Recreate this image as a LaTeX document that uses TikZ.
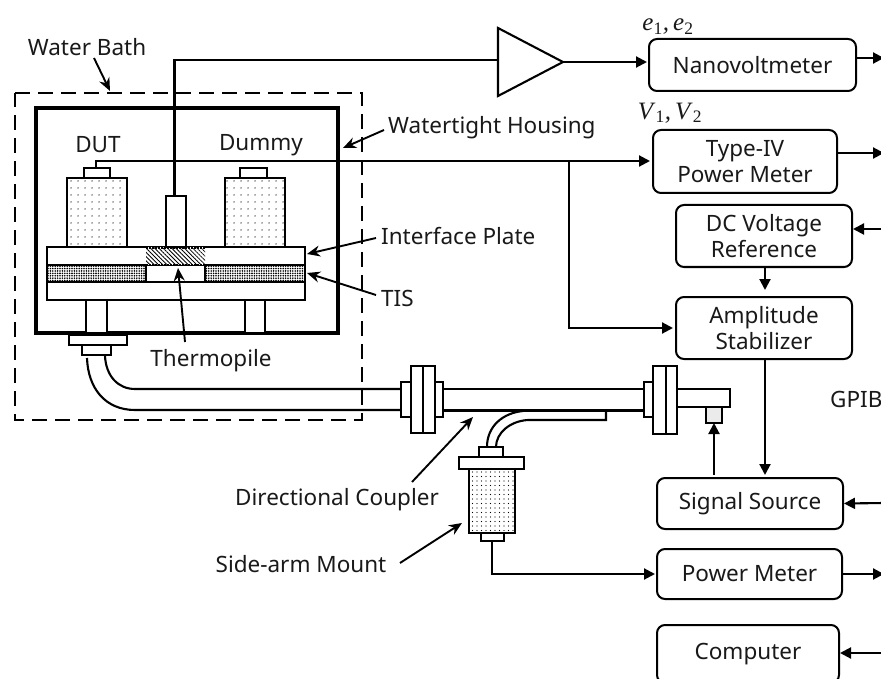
\documentclass[tikz,border=0pt]{standalone}
\usepackage{fontspec}
\setmainfont{Noto Sans}
\newfontfamily\symfont{Liberation Serif}
\usetikzlibrary{arrows.meta,patterns.meta}
\tikzset{
  x=1pt,y=-1pt,
  every node/.style={font=\fontsize{22.5}{26}\selectfont,text=black!90,inner sep=0pt,align=center},
  instr/.style={draw,line width=2pt,rounded corners=8pt,minimum width=#1},
  part/.style={draw,line width=2pt,fill=white},
  wire/.style={line width=2.1pt},
  arr/.style={line width=2.1pt,-{Triangle[length=11pt,width=11pt]}},
  ann/.style={line width=1.9pt,-{Stealth[length=13pt,width=11pt]}},
  lightdots/.style={pattern={Dots[distance=6.5pt,radius=0.7pt]}},
  densedots/.style={pattern={Dots[distance=2.4pt,radius=0.9pt]}},
  hatchfill/.style={pattern={Lines[angle=-45,distance=3pt,line width=.8pt]}},
}
\newcommand{\symtext}[1]{{\symfont\fontsize{25}{28}\selectfont\textit{#1}\textsubscript{1}\textit{,\,#1}\textsubscript{2}}}
\begin{document}
\begin{tikzpicture}
\useasboundingbox (0,0) rectangle (881,679);
\fill[white] (0,0) rectangle (881,679);
% instruments
\node[instr=207pt,minimum height=52pt] (nv) at (752.5,65) {\raisebox{-1pt}{Nanovoltmeter}};
\node[instr=184pt,minimum height=63pt] (tiv) at (745,161.5) {Type-IV\\Power Meter};
\node[instr=176pt,minimum height=62pt] (dc) at (764,236) {\raisebox{1pt}{DC Voltage}\\\raisebox{1pt}{Reference}};
\node[instr=176pt,minimum height=62pt] (amp) at (764,328) {Amplitude\\Stabilizer};
\node[instr=186pt,minimum height=51pt] (sig) at (750,503.5) {\raisebox{-3pt}{Signal Source}};
\node[instr=185pt,minimum height=50pt] (pm) at (749.5,574) {Power Meter};
\node[instr=182pt,minimum height=58pt] (comp) at (748,654) {\raisebox{-2pt}{Computer}};
% labels
\node (wb) at (87,47) {Water Bath};
\node[anchor=west] (wh) at (388,128) {Watertight Housing};
\node (dut) at (98,145) {DUT};
\node (dum) at (261,145) {Dummy};
\node[anchor=west] (ip) at (381,236) {Interface Plate};
\node[anchor=west] (tis) at (381,298) {TIS};
\node (tp) at (211,361) {Thermopile};
\node (dcl) at (337,500) {Directional Coupler};
\node (sam) at (301,564) {Side-arm Mount};
\node[anchor=west] (gpib) at (830,399) {GPIB};
\node (e) at (668,27) {\symtext{e}};
\node (v) at (670,113) {\symtext{V}};
% water bath & housing
\draw[line width=2.5pt,dash pattern=on 15pt off 8pt] (15,93) -- (362,93) -- (362,420) -- (15,420) -- cycle;
\draw[line width=3.6pt] (36,108) rectangle (338,333);
% plates
\draw[part] (47,247) rectangle (305,265);
\draw[part] (47,282) rectangle (305,300);
\draw[part,densedots] (47,265) rectangle (146,282);
\draw[part,densedots] (205,265) rectangle (305,282);
\draw[part] (146,265) rectangle (205,282);
\fill[white] (146,247) rectangle (205,265);
\path[hatchfill] (146,247) rectangle (205,265);
\draw[line width=2pt,densely dotted] (146,248) -- (205,248) (146,265) -- (205,265);
% mounts
\draw[part] (84,168) rectangle (110,178);
\draw[part,preaction={fill=white},lightdots] (67,178) rectangle (127,247);
\draw[part] (240,168) rectangle (267,178);
\draw[part,preaction={fill=white},lightdots] (225,178) rectangle (285,247);
\draw[part] (166,196) rectangle (186,247);
\coordinate (sensortop) at (174.5,196);
\coordinate (duttop) at (96,168);
\draw[part] (86,300) rectangle (107,333);
\draw[part] (245,300) rectangle (265,333);
\draw[part] (69,335) rectangle (127,345);
\draw[part] (82,345) rectangle (111,355);
% waveguide
\draw[wire] (87,358) .. controls (88,388) and (105,410) .. (135,410) -- (401,410);
\draw[wire] (105,356) .. controls (106,376) and (118,389) .. (135,389) -- (401,389);
\draw[wire] (443,389) -- (644,389) (443,410.5) -- (644,410.5);
\draw[wire] (677,389) -- (730,389) -- (730,407) -- (677,407);
\draw[part] (401,382) rectangle (411,417);
\draw[part] (411,366) rectangle (423,433);
\draw[part] (423,366) rectangle (435,433);
\draw[part] (435,382) rectangle (443,417);
\draw[part] (644,382) rectangle (653,417);
\draw[part] (653,366) rectangle (666,434);
\draw[part] (666,366) rectangle (677,434);
\draw[part,fill=black!8] (706,407) rectangle (722,423);
\coordinate (detbot) at (714,423);
% coupler
\draw[wire] (523,411) .. controls (503,413) and (487,426) .. (487,447);
\draw[wire] (606,411) -- (606,420) -- (528,420) .. controls (510,421) and (496,433) .. (496,447);
% side-arm mount
\draw[part] (479,447) rectangle (503,457);
\draw[part] (459,457) rectangle (524,469);
\draw[part,preaction={fill=white},pattern={Dots[distance=4.5pt,radius=0.55pt]}] (469,469) rectangle (515,533);
\draw[part] (481,533) rectangle (504,541);
\coordinate (sabot) at (492,541);
% wires
\coordinate (bend1) at (174.5,60);
\draw[wire,fill=white] (498,28) -- (563,62) -- (498,96) -- cycle;
\coordinate (triin) at (498,60);
\coordinate (triout) at (563,62);
\draw[wire] (sensortop) -- (bend1) -- (triin);
\draw[arr] (triout) -- (647,62);
\coordinate (wbend) at (96,161);
\draw[arr] (duttop) -- (wbend) -- (650,161);
\coordinate (junc) at (569,161);
\coordinate (jbend) at (569,328);
\draw[arr] (junc) -- (jbend) -- (673,328);
% instrument arrows
\draw[arr] (nv.east |- 0,58) -- (884,58);
\draw[arr] (tiv.east |- 0,153) -- (884,153);
\draw[arr] (884,229) -- (dc.east |- 0,229);
\draw[arr] (dc.south -| 765,0) -- (765,290);
\draw[arr] (amp.south -| 765,0) -- (765,475);
\draw[arr] (714,475) -- (detbot);
\draw[arr] (884,503) -- (sig.east);
\draw[arr] (pm.east) -- (884,574);
\draw[arr] (884,653) -- (comp.east |- 0,653);
\draw[arr] (sabot) -- (492,574) -- (655,574);
% annotations
\draw[ann] (94,58) -- (110,91);
\draw[ann] (384,130) -- (343,148);
\draw[ann] (376,238) -- (307,254);
\draw[ann] (376,295) -- (307,273);
\draw[ann] (185,342) -- (178,268);
\draw[ann] (412,482) -- (473,417);
\draw[ann] (400,563) -- (462,523);
\end{tikzpicture}
\end{document}
